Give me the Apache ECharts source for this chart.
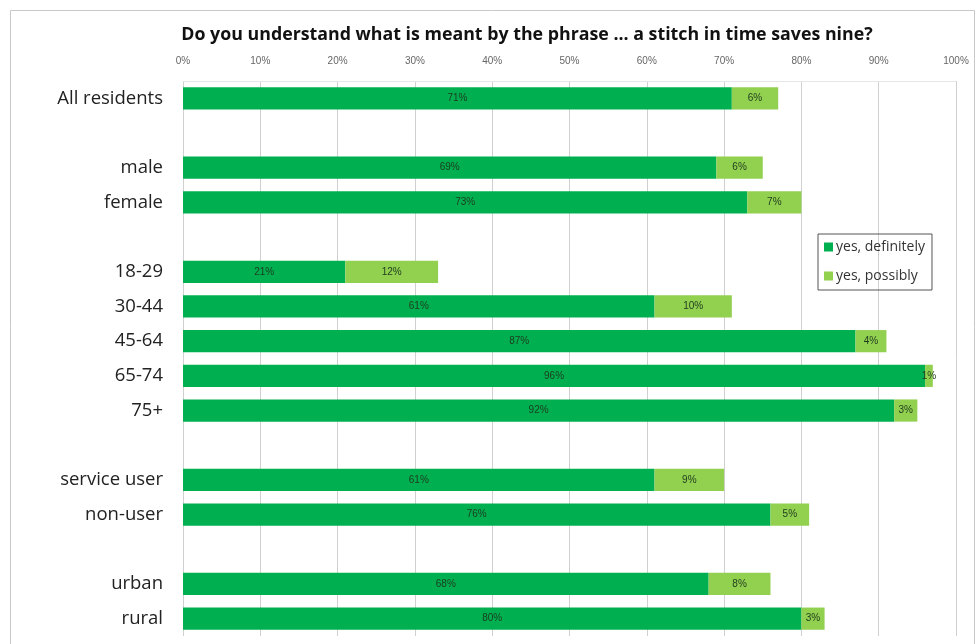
<!DOCTYPE html>
<html>
<head>
<meta charset="utf-8">
<script src="https://cdn.jsdelivr.net/npm/echarts@6/dist/echarts.min.js"></script>
<style>
  html, body { margin: 0; padding: 0; background: #fff; }
  #chart { width: 980px; height: 644px; }
</style>
</head>
<body>
<div id="chart"></div>
<script>
// Survey groups; blank entries leave spacing between the blocks of groups
const categories = ['All residents', ' ', 'male', 'female', '  ', '18-29', '30-44', '45-64', '65-74', '75+', '   ', 'service user', 'non-user', '    ', 'urban', 'rural'];
const yesDefinitely = [71, '-', 69, 73, '-', 21, 61, 87, 96, 92, '-', 61, 76, '-', 68, 80];
const yesPossibly   = [6, '-', 6, 7, '-', 12, 10, 4, 1, 3, '-', 9, 5, '-', 8, 3];
const seriesNames = ['yes, definitely', 'yes, possibly'];
const titleText = 'Do you understand what is meant by the phrase ... a stitch in time saves nine?';

const chart = echarts.init(document.getElementById('chart'), null, { renderer: 'canvas' });

const barLabel = {
  show: true,
  position: 'inside',
  formatter: p => p.value + '%',
  color: '#1e3a1e',
  fontSize: 10,
  fontFamily: 'Liberation Sans Narrow, Liberation Sans, sans-serif'
};

chart.setOption({
  animation: false,
  title: {
    text: titleText,
    left: 522,
    top: 21,
    textAlign: 'center',
    textStyle: { fontFamily: 'Open Sans, sans-serif', fontWeight: 'bold', fontSize: 17.8, color: '#111' }
  },
  graphic: [{
    type: 'rect',
    shape: { x: 10.5, y: 10.5, width: 964, height: 660 },
    style: { fill: 'none', stroke: '#c8c8c8', lineWidth: 1 },
    silent: true,
    z: -1
  }],
  legend: {
    data: seriesNames,
    orient: 'vertical',
    left: 818,
    top: 234,
    padding: [5, 7, 6, 6],
    itemGap: 13,
    itemWidth: 9,
    itemHeight: 9,
    icon: 'rect',
    borderColor: '#555',
    borderWidth: 1,
    textStyle: { fontFamily: 'Open Sans, sans-serif', fontSize: 14, lineHeight: 16, color: '#333', padding: [0, 0, 0, -2] }
  },
  grid: { left: 183, right: 24, top: 81, bottom: 8, containLabel: false },
  xAxis: {
    type: 'value',
    position: 'top',
    min: 0,
    max: 100,
    interval: 10,
    axisLine: { show: true, lineStyle: { color: '#e6e6e6' } },
    axisTick: { show: false },
    axisLabel: {
      formatter: '{value}%',
      color: '#666',
      fontSize: 10,
      fontFamily: 'Liberation Sans Narrow, Liberation Sans, sans-serif',
      margin: 15
    },
    splitLine: { show: true, lineStyle: { color: '#d0d0d0', width: 1 } }
  },
  yAxis: {
    type: 'category',
    data: categories,
    inverse: true,
    axisLine: { show: false },
    axisTick: { show: false },
    axisLabel: {
      color: '#222',
      fontSize: 18.5,
      fontFamily: 'Open Sans, sans-serif',
      margin: 20
    }
  },
  series: [
    {
      name: seriesNames[0],
      type: 'bar',
      stack: 'total',
      data: yesDefinitely,
      barCategoryGap: '36%',
      itemStyle: { color: '#00b050' },
      label: barLabel
    },
    {
      name: seriesNames[1],
      type: 'bar',
      stack: 'total',
      data: yesPossibly,
      itemStyle: { color: '#92d050' },
      label: barLabel
    }
  ]
});
</script>
</body>
</html>
